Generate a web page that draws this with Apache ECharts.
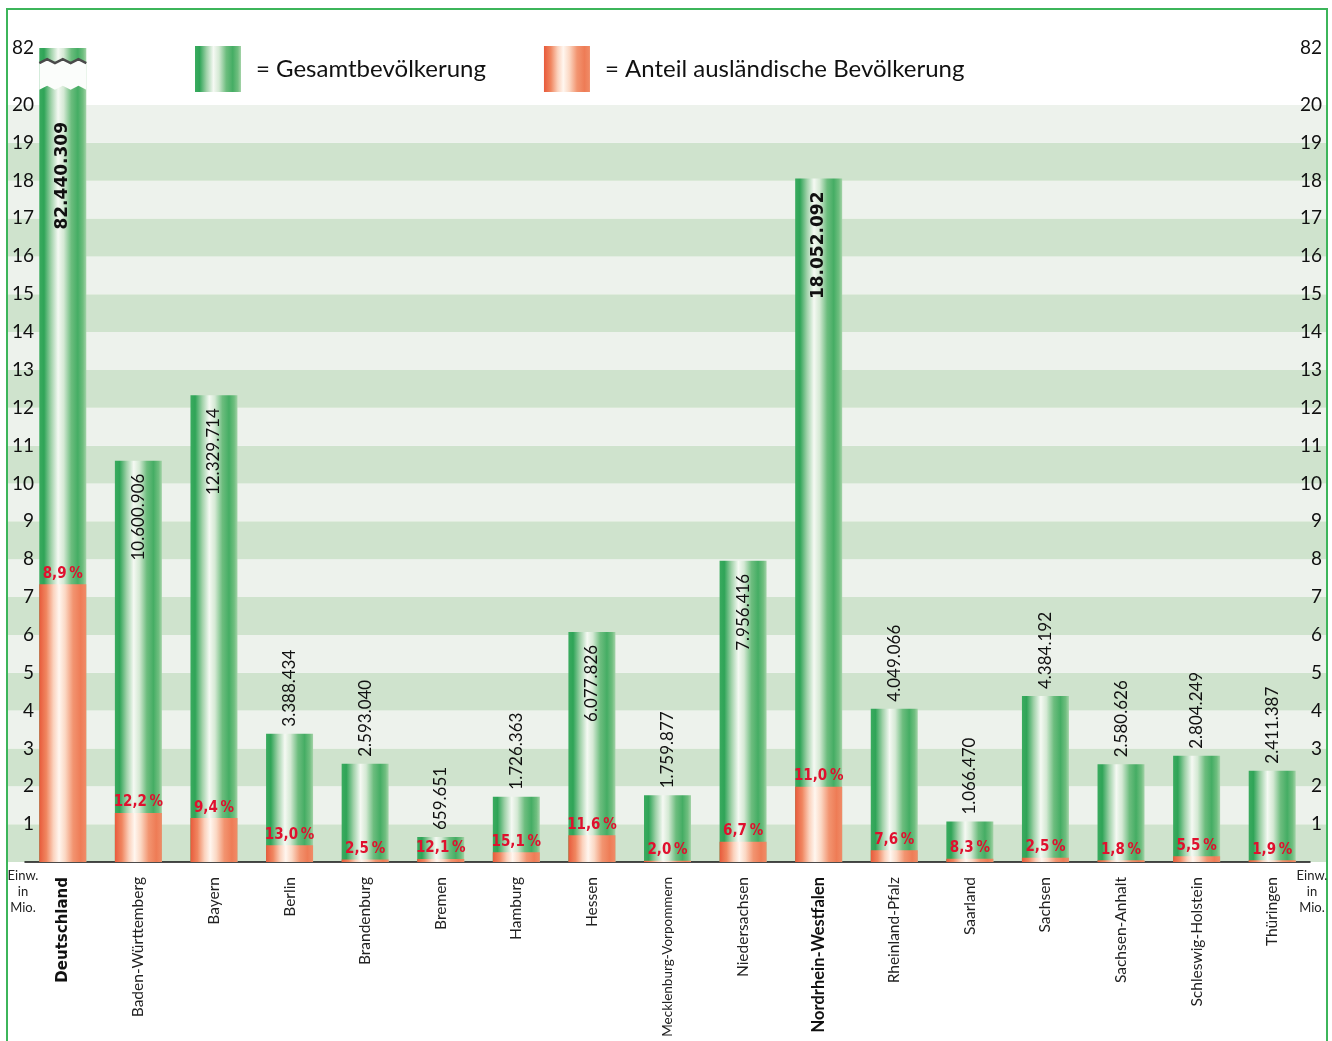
<!DOCTYPE html>
<html>
<head>
<meta charset="utf-8">
<script src="https://cdn.jsdelivr.net/npm/echarts@6/dist/echarts.min.js"></script>
<style>html,body{margin:0;padding:0;background:#fff}#c{width:1332px;height:1041px}</style>
</head>
<body>
<div id="c"></div>
<script>
const categories = ['Deutschland','Baden-Württemberg','Bayern','Berlin','Brandenburg','Bremen','Hamburg','Hessen','Mecklenburg-Vorpommern','Niedersachsen','Nordrhein-Westfalen','Rheinland-Pfalz','Saarland','Sachsen','Sachsen-Anhalt','Schleswig-Holstein','Thüringen'];
const totals = [82440309,10600906,12329714,3388434,2593040,659651,1726363,6077826,1759877,7956416,18052092,4049066,1066470,4384192,2580626,2804249,2411387];
const foreignPct = [8.9,12.2,9.4,13.0,2.5,12.1,15.1,11.6,2.0,6.7,11.0,7.6,8.3,2.5,1.8,5.5,1.9];
const labelStyleKey = {'Deutschland': 'd', 'Nordrhein-Westfalen': 'b', 'Mecklenburg-Vorpommern': 's'};
const tickLabels = ['1','2','3','4','5','6','7','8','9','10','11','12','13','14','15','16','17','18','19','20'];
const breakTickLabel = '82';

const AXIS_LIMIT = 20;      // normal scale ends here (millions)
const AXIS_TOP = 21.5;      // display position of broken-scale top
const BREAK_FROM = 20.4, BREAK_TO = 21.1;

const toDisplay = m => m > AXIS_LIMIT ? AXIS_TOP : m;
const fmtNum = n => String(n).replace(/\B(?=(\d{3})+(?!\d))/g, '.');
const fmtPct = p => p.toFixed(1).replace('.', ',') + '\u2009%';

const green = new echarts.graphic.LinearGradient(0,0,1,0,[
  {offset:0,color:'#3aab5f'},{offset:0.1,color:'#2fa457'},{offset:0.25,color:'#9fd1a8'},
  {offset:0.4,color:'#f5f9f3'},{offset:0.52,color:'#d4e9d4'},{offset:0.68,color:'#6cbd7e'},
  {offset:0.82,color:'#45ad64'},{offset:0.93,color:'#6fbe7f'},{offset:1,color:'#a4d3a8'}]);
const orange = new echarts.graphic.LinearGradient(0,0,1,0,[
  {offset:0,color:'#e85a3b'},{offset:0.15,color:'#f08660'},{offset:0.3,color:'#fbd2bd'},
  {offset:0.42,color:'#fff6ef'},{offset:0.55,color:'#fbd8c4'},{offset:0.72,color:'#f29470'},
  {offset:0.88,color:'#ee7c56'},{offset:1,color:'#f08c68'}]);

const totalData = totals.map((t,i) => {
  const m = t/1e6;
  const inside = m > 5;
  const big = m > 15;
  return {
    value: toDisplay(m),
    label: {
      show: true,
      formatter: fmtNum(t),
      rotate: 90,
      position: inside ? 'insideTop' : 'top',
      align: inside ? 'right' : 'left',
      verticalAlign: 'middle',
      distance: m > AXIS_LIMIT ? 74 : (inside ? 13 : 7),
      fontSize: 17,
      fontWeight: big ? 'bold' : 'normal',
      fontFamily: big ? 'DejaVu Sans' : 'Lato',
      color: '#111'
    }
  };
});
const foreignData = totals.map((t,i) => t/1e6*foreignPct[i]/100);
const breakData = totals.map((t,i) => t/1e6 > AXIS_LIMIT ? [i] : null).filter(Boolean);

const chart = echarts.init(document.getElementById('c'), null, {renderer:'canvas'});
const yLabelFmt = v => {
  if (Math.abs(v - AXIS_TOP) < 1e-6) return breakTickLabel;
  if (Number.isInteger(v) && v >= 1 && v <= tickLabels.length) return tickLabels[v-1];
  return '';
};
const pctFont = "'DejaVu Sans Condensed', 'Liberation Sans Narrow', Roboto, sans-serif";
chart.setOption({
  animation: false,
  textStyle: {fontFamily: 'Lato'},
  grid: [
    {left: 25, right: 22, top: 48, bottom: 179, outerBoundsMode: 'none', containLabel: false},
    {left: 8, right: 6, top: 105, bottom: 179, outerBoundsMode: 'none', containLabel: false}
  ],
  legend: {
    left: 195, top: 46, padding: 0, itemWidth: 46, itemHeight: 46, itemGap: 58, icon: 'rect',
    selectedMode: false,
    data: ['Gesamtbevölkerung','Anteil ausländische Bevölkerung'],
    formatter: n => '= ' + n,
    textStyle: {fontSize: 24, fontFamily: 'Lato', color: '#111', padding: [0,0,0,10]}
  },
  xAxis: [
    {type: 'category', gridIndex: 0, data: categories,
     axisLine: {lineStyle: {color: '#111', width: 1.5}},
     axisTick: {alignWithLabel: true, length: 8, lineStyle: {color: '#111', width: 1.5}},
     axisLabel: {rotate: 90, margin: 15, interval: 0, fontSize: 15.5, color: '#222',
       formatter: v => labelStyleKey[v] ? '{' + labelStyleKey[v] + '|' + v + '}' : v,
       rich: {d: {fontWeight: 'bold', fontSize: 15, fontFamily: 'DejaVu Sans', color: '#111'},
              b: {fontWeight: 'bold', fontSize: 16.5, fontFamily: 'Lato', color: '#111'},
              s: {fontSize: 13.5, fontFamily: 'Lato', color: '#222'}}}},
    {type: 'value', gridIndex: 1, min: 0, max: 1, show: false}
  ],
  yAxis: [
    {type: 'value', gridIndex: 0, min: 0, max: AXIS_TOP, interval: 0.5, offset: -9,
     axisLine: {show: false}, axisTick: {show: false}, splitLine: {show: false},
     axisLabel: {formatter: yLabelFmt, align: 'right', margin: 0, fontSize: 19, color: '#111', showMaxLabel: true}},
    {type: 'value', gridIndex: 0, min: 0, max: AXIS_TOP, interval: 0.5, position: 'right',
     axisLine: {show: false}, axisTick: {show: false}, splitLine: {show: false},
     axisLabel: {formatter: yLabelFmt, align: 'right', margin: 12, fontSize: 19, color: '#111', showMaxLabel: true}},
    {type: 'value', gridIndex: 1, min: 0, max: AXIS_LIMIT, interval: 1,
     axisLine: {show: false}, axisTick: {show: false}, axisLabel: {show: false}, splitLine: {show: false},
     splitArea: {show: true, areaStyle: {color: ['#cfe3cd', '#edf2ec']}}}
  ],
  series: [
    {name: 'Gesamtbevölkerung', type: 'bar', xAxisIndex: 0, yAxisIndex: 0, barWidth: 47, barGap: '-100%',
     itemStyle: {color: green}, data: totalData, z: 2},
    {name: 'Anteil ausländische Bevölkerung', type: 'bar', xAxisIndex: 0, yAxisIndex: 0, barWidth: 47, barGap: '-100%',
     itemStyle: {color: orange}, data: foreignData, z: 3,
     label: {show: true, position: 'top', distance: 3,
       formatter: p => fmtPct(foreignPct[p.dataIndex]),
       fontFamily: pctFont, fontWeight: 'bold', fontSize: 15, color: '#e0102e'}},
    {type: 'custom', xAxisIndex: 0, yAxisIndex: 0, z: 5, data: breakData,
     renderItem: (params, api) => {
       const cx = api.coord([api.value(0), 0])[0];
       const half = 23.5;
       const yT = api.coord([0, BREAK_TO])[1];
       const yB = api.coord([0, BREAK_FROM])[1];
       const n = 6, amp = 4;
       const top = [], bot = [];
       for (let i = 0; i <= n; i++) {
         const x = cx - half + i * 2 * half / n;
         const d = (i % 2) ? -amp : 0;
         top.push([x, yT + d]);
         bot.push([x, yB + d]);
       }
       return {type: 'group', children: [
         {type: 'polygon', shape: {points: top.concat(bot.slice().reverse())}, style: {fill: '#fbfdfb'}},
         {type: 'polyline', shape: {points: top}, style: {stroke: '#4a4a4a', lineWidth: 2.5, fill: null}}
       ]};
     }}
  ],
  graphic: [
    {type: 'rect', shape: {x: 7, y: 9, width: 1320, height: 1100}, style: {fill: null, stroke: '#3cb55a', lineWidth: 2}, silent: true},
    {type: 'text', x: 23, y: 868, style: {text: 'Einw.\nin\nMio.', fontSize: 13, lineHeight: 16, fill: '#222', align: 'center', fontFamily: 'Lato'}},
    {type: 'text', x: 1312, y: 868, style: {text: 'Einw.\nin\nMio.', fontSize: 13, lineHeight: 16, fill: '#222', align: 'center', fontFamily: 'Lato'}}
  ]
});
</script>
</body>
</html>
